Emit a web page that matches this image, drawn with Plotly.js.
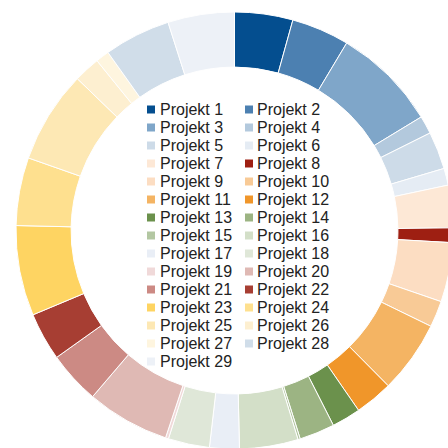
<!DOCTYPE html>
<html>
<head>
<meta charset="utf-8">
<script src="https://cdn.plot.ly/plotly-3.0.1.min.js"></script>
<style>
html, body { margin: 0; padding: 0; width: 448px; height: 448px; overflow: hidden; background: #fff; }
#chart { position: absolute; left: 0; top: 0; width: 470px; height: 470px; }
</style>
</head>
<body>
<div id="chart"></div>
<script>
const projects = ["Projekt 1","Projekt 2","Projekt 3","Projekt 4","Projekt 5","Projekt 6","Projekt 7","Projekt 8","Projekt 9","Projekt 10",
  "Projekt 11","Projekt 12","Projekt 13","Projekt 14","Projekt 15","Projekt 16","Projekt 17","Projekt 18","Projekt 19","Projekt 20",
  "Projekt 21","Projekt 22","Projekt 23","Projekt 24","Projekt 25","Projekt 26","Projekt 27","Projekt 28","Projekt 29"];
const values = [15.5, 15.4, 27.8, 4.8, 10.0, 4.5, 11.3, 3.9, 15.8, 7.0,
  19.3, 10.1, 7.7, 9.4, 0.6, 15.6, 7.9, 11.0, 0.8, 22.1,
  14.0, 12.8, 24.0, 18.1, 24.6, 7.0, 3.6, 17.7, 17.7];
const colors = ["#044e8f","#4c80b1","#7fa6c9","#b3c9dd","#cddbe8","#e5ecf4","#fde8d6","#9e1f12","#fcddc2","#f8ca96",
  "#f4b463","#f0962a","#6b914c","#9cb483","#b3c7a2","#d3dfc8","#e9eef6","#dfe7d8","#f0d9d9","#dfb9b4",
  "#cc8a84","#a73e33","#fed462","#fee08f","#fde8b4","#fdefd0","#fef5df","#d0dde9","#edf1f7"];

const W = 470, H = 470;
const cx = 234.5, cy = 230.5, R = 218.5;

const data = [{
  type: "pie",
  labels: projects,
  values: values,
  sort: false,
  direction: "clockwise",
  rotation: 0,
  hole: 0.748,
  textinfo: "none",
  hoverinfo: "label+value",
  marker: { colors: colors, line: { color: "#ffffff", width: 1 } },
  domain: { x: [(cx - R) / W, (cx + R) / W], y: [1 - (cy + R) / H, 1 - (cy - R) / H] },
  showlegend: false
}];

// custom two-column legend inside the hole
const annotations = [];
const shapes = [];
const colText = [159.5, 257];
const colMark = [147, 245];
projects.forEach((p, i) => {
  const row = Math.floor(i / 2), col = i % 2;
  const yc = 109.5 + 18 * row;
  annotations.push({
    xref: "paper", yref: "paper",
    x: colText[col] / W, y: 1 - yc / H,
    xanchor: "left", yanchor: "middle",
    text: p, showarrow: false,
    borderpad: 0, borderwidth: 0,
    font: { family: "Liberation Sans, Arial, sans-serif", size: 16, color: "#222222" }
  });
  shapes.push({
    type: "rect", xref: "paper", yref: "paper",
    x0: colMark[col] / W, x1: (colMark[col] + 8) / W,
    y0: 1 - (yc + 4) / H, y1: 1 - (yc - 4) / H,
    fillcolor: colors[i], line: { width: 0 }
  });
});

const layout = {
  width: W, height: H,
  margin: { l: 0, r: 0, t: 0, b: 0 },
  paper_bgcolor: "#ffffff",
  plot_bgcolor: "#ffffff",
  showlegend: false,
  annotations: annotations,
  shapes: shapes
};

Plotly.newPlot("chart", data, layout, { displayModeBar: false, staticPlot: true });
</script>
</body>
</html>
